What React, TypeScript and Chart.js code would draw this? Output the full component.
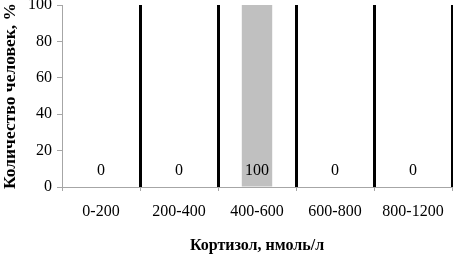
import React, { useEffect, useRef } from "react";
import { Chart, registerables } from "chart.js";

Chart.register(...registerables);

const categories = ["0-200", "200-400", "400-600", "600-800", "800-1200"];
const values = [0, 0, 100, 0, 0];
const yTicks = [0, 20, 40, 60, 80, 100];
const xTitle = "Кортизол, нмоль/л";
const yTitle = "Количество человек, %";

const FONT = "'Liberation Serif', 'Times New Roman', serif";

const labelPlugin = {
  id: "valueLabels",
  afterDatasetsDraw(chart: any) {
    const { ctx } = chart;
    const xScale = chart.scales.x;
    const yScale = chart.scales.y;
    ctx.save();
    ctx.font = `16px ${FONT}`;
    ctx.fillStyle = "#000";
    ctx.textAlign = "center";
    ctx.textBaseline = "middle";
    values.forEach((v, i) => {
      const x = xScale.getPixelForValue(i);
      const y = yScale.bottom - 16;
      ctx.fillText(String(v), x, y);
    });
    ctx.restore();
  },
};

export default function App() {
  const ref = useRef<HTMLCanvasElement>(null);
  useEffect(() => {
    if (!ref.current) return;
    const chart = new Chart(ref.current, {
      type: "bar",
      data: {
        labels: categories,
        datasets: [
          {
            data: values,
            backgroundColor: "#c0c0c0",
            borderWidth: 0,
            categoryPercentage: 1,
            barPercentage: 0.39,
          },
        ],
      },
      options: {
        responsive: false,
        animation: false,
        devicePixelRatio: 1,
        layout: { padding: { top: 5, right: 1, left: 0, bottom: 0 } },
        plugins: {
          legend: { display: false },
          tooltip: { enabled: false },
        },
        scales: {
          x: {
            offset: true,
            grid: {
              offset: true,
              drawOnChartArea: true,
              drawTicks: true,
              tickLength: 4,
              tickColor: "#a6a6a6",
              tickWidth: 1,
              lineWidth: 3,
              color: (c: any) => (c.index === 0 ? "rgba(0,0,0,0)" : "#000"),
            },
            border: { display: true, color: "#a6a6a6", width: 1 },
            ticks: {
              font: { family: FONT, size: 16 },
              color: "#000",
              padding: 11,
              maxRotation: 0,
              autoSkip: false,
            },
            title: {
              display: true,
              text: xTitle,
              font: { family: FONT, size: 16, weight: "bold", lineHeight: 1 },
              color: "#000",
              padding: 0,
            },
            afterFit: (s: any) => {
              s.height = 67;
              s.paddingLeft = 0;
              s.paddingRight = 0;
            },
          },
          y: {
            min: 0,
            max: 100,
            afterBuildTicks: (s: any) => {
              s.ticks = yTicks.map((v) => ({ value: v }));
            },
            grid: {
              drawOnChartArea: false,
              drawTicks: true,
              tickLength: 5,
              tickColor: "#a6a6a6",
              color: "#a6a6a6",
            },
            border: { display: true, color: "#a6a6a6", width: 1 },
            ticks: {
              font: { family: FONT, size: 16 },
              color: "#000",
              padding: 5,
            },
            title: {
              display: true,
              text: yTitle,
              font: { family: FONT, size: 17.5, weight: "bold", lineHeight: 1 },
              color: "#000",
              padding: { top: 2, bottom: 0 },
            },
            afterFit: (s: any) => {
              s.width = 62;
              s.paddingTop = 0;
              s.paddingBottom = 0;
            },
          },
        },
      },
      plugins: [labelPlugin],
    });
    return () => chart.destroy();
  }, []);
  return (
    <div style={{ position: "fixed", left: 0, top: 0, width: 453, height: 254, background: "#fff" }}>
      <canvas ref={ref} width={453} height={254} />
    </div>
  );
}
